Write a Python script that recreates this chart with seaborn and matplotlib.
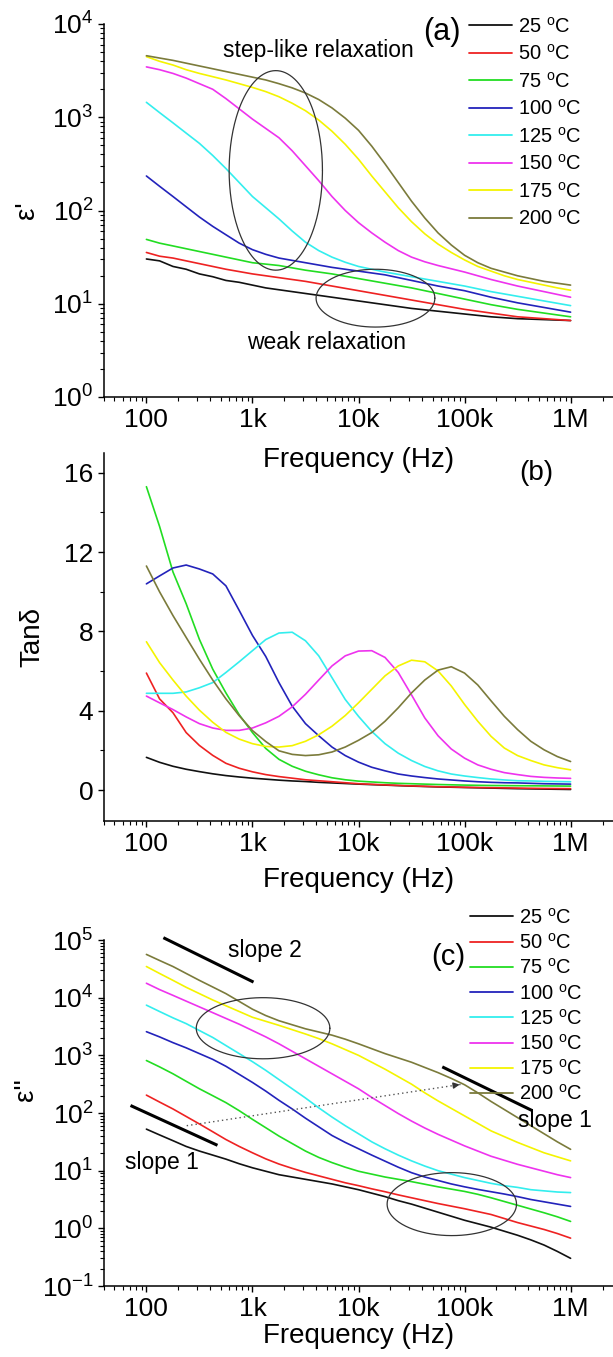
import numpy as np
import pandas as pd
import matplotlib
matplotlib.use("Agg")
import matplotlib.pyplot as plt
import seaborn as sns
from matplotlib.lines import Line2D
from matplotlib.ticker import FixedLocator, LogLocator, NullFormatter, LogFormatterSciNotation

# ---------------------------------------------------------------- data
# measurement frequencies (Hz), eighth-decade steps from 100 Hz to 1 MHz
freq = [100, 133, 178, 237, 316, 422, 562, 750, 1000, 1334, 1778, 2371, 3162,
        4217, 5623, 7499, 10000, 13335, 17783, 23714, 31623, 42170, 56234,
        74989, 100000, 133352, 177828, 237137, 316228, 421697, 562341,
        749894, 1000000]

temps = ["25", "50", "75", "100", "125", "150", "175", "200"]

# (a) real permittivity, stored as log10(eps')
eps1_25 = [1.48, 1.46, 1.40, 1.37, 1.32, 1.29, 1.25, 1.23, 1.20, 1.17, 1.15, 1.13, 1.11, 1.09, 1.07, 1.05, 1.03,
           1.01, 0.99, 0.97, 0.95, 0.935, 0.92, 0.905, 0.89, 0.875, 0.86, 0.85, 0.84, 0.835, 0.83, 0.825, 0.82]
eps1_50 = [1.55, 1.51, 1.49, 1.46, 1.43, 1.40, 1.37, 1.345, 1.32, 1.30, 1.28, 1.26, 1.24, 1.215, 1.19, 1.165, 1.14,
           1.115, 1.09, 1.065, 1.04, 1.015, 0.99, 0.965, 0.94, 0.92, 0.90, 0.88, 0.86, 0.85, 0.84, 0.83, 0.82]
eps1_75 = [1.69, 1.65, 1.62, 1.59, 1.56, 1.53, 1.50, 1.47, 1.44, 1.425, 1.41, 1.385, 1.36, 1.34, 1.32, 1.295, 1.27,
           1.245, 1.22, 1.195, 1.17, 1.14, 1.11, 1.08, 1.05, 1.02, 0.99, 0.965, 0.94, 0.92, 0.90, 0.88, 0.86]
eps1_100 = [2.37, 2.26, 2.15, 2.04, 1.93, 1.83, 1.74, 1.65, 1.58, 1.53, 1.49, 1.465, 1.44, 1.415, 1.39, 1.37, 1.35,
            1.33, 1.31, 1.28, 1.25, 1.22, 1.19, 1.165, 1.14, 1.105, 1.07, 1.04, 1.01, 0.985, 0.96, 0.935, 0.91]
eps1_125 = [3.16, 3.05, 2.94, 2.83, 2.72, 2.59, 2.45, 2.30, 2.15, 2.03, 1.91, 1.78, 1.66, 1.57, 1.50, 1.445, 1.40,
            1.37, 1.34, 1.315, 1.29, 1.265, 1.24, 1.215, 1.19, 1.16, 1.13, 1.105, 1.08, 1.055, 1.03, 1.005, 0.98]
eps1_150 = [3.54, 3.51, 3.47, 3.42, 3.36, 3.30, 3.20, 3.09, 2.98, 2.88, 2.78, 2.64, 2.48, 2.32, 2.15, 2.00, 1.87,
            1.76, 1.66, 1.57, 1.50, 1.45, 1.41, 1.375, 1.34, 1.30, 1.26, 1.225, 1.19, 1.16, 1.13, 1.10, 1.07]
eps1_175 = [3.65, 3.60, 3.56, 3.51, 3.47, 3.435, 3.40, 3.36, 3.32, 3.275, 3.22, 3.15, 3.07, 2.97, 2.85, 2.71, 2.55,
            2.37, 2.20, 2.03, 1.88, 1.75, 1.64, 1.55, 1.47, 1.40, 1.35, 1.30, 1.26, 1.23, 1.20, 1.17, 1.145]
eps1_200 = [3.66, 3.635, 3.61, 3.58, 3.55, 3.52, 3.49, 3.46, 3.43, 3.40, 3.36, 3.315, 3.26, 3.19, 3.10, 2.99, 2.86,
            2.69, 2.50, 2.30, 2.10, 1.92, 1.76, 1.63, 1.52, 1.44, 1.38, 1.34, 1.30, 1.27, 1.24, 1.22, 1.20]

# (b) loss tangent
tan_25 = [1.65, 1.4, 1.2, 1.05, 0.93, 0.82, 0.73, 0.66, 0.6, 0.55, 0.5, 0.46, 0.43, 0.39, 0.36, 0.33, 0.3,
          0.275, 0.25, 0.225, 0.2, 0.18, 0.16, 0.145, 0.13, 0.115, 0.1, 0.085, 0.07, 0.06, 0.05, 0.04, 0.03]
tan_50 = [5.9, 4.6, 3.9, 2.9, 2.25, 1.75, 1.35, 1.1, 0.92, 0.78, 0.68, 0.6, 0.52, 0.47, 0.42, 0.37, 0.32,
          0.29, 0.26, 0.235, 0.21, 0.19, 0.17, 0.155, 0.14, 0.13, 0.12, 0.11, 0.10, 0.09, 0.08, 0.075, 0.07]
tan_75 = [15.3, 13.3, 11.0, 9.4, 7.6, 6.1, 4.9, 3.8, 2.9, 2.1, 1.55, 1.2, 0.95, 0.77, 0.62, 0.52, 0.45,
          0.41, 0.37, 0.34, 0.32, 0.30, 0.28, 0.265, 0.25, 0.24, 0.23, 0.225, 0.22, 0.215, 0.21, 0.205, 0.20]
tan_100 = [10.4, 10.8, 11.2, 11.35, 11.15, 10.9, 10.3, 9.06, 7.8, 6.74, 5.42, 4.23, 3.35, 2.74, 2.17, 1.74, 1.41,
           1.15, 0.97, 0.81, 0.71, 0.63, 0.56, 0.51, 0.46, 0.42, 0.39, 0.37, 0.36, 0.34, 0.32, 0.31, 0.30]
tan_125 = [4.88, 4.88, 4.88, 4.95, 5.16, 5.42, 5.93, 6.47, 7.03, 7.59, 7.92, 7.96, 7.53, 6.77, 5.67, 4.57, 3.72,
           2.96, 2.34, 1.86, 1.49, 1.19, 0.97, 0.81, 0.71, 0.63, 0.56, 0.51, 0.47, 0.46, 0.44, 0.43, 0.42]
tan_150 = [4.74, 4.4, 4.06, 3.69, 3.35, 3.13, 3.01, 3.01, 3.13, 3.39, 3.72, 4.2, 4.83, 5.55, 6.26, 6.77, 7.01,
           7.03, 6.69, 5.93, 4.8, 3.64, 2.74, 2.07, 1.61, 1.27, 1.05, 0.88, 0.78, 0.69, 0.64, 0.61, 0.59]
tan_175 = [7.48, 6.43, 5.55, 4.74, 4.03, 3.42, 2.91, 2.57, 2.34, 2.2, 2.17, 2.24, 2.46, 2.79, 3.22, 3.76, 4.4,
           5.08, 5.76, 6.26, 6.55, 6.47, 6.01, 5.25, 4.32, 3.47, 2.71, 2.12, 1.74, 1.49, 1.27, 1.13, 1.02]
tan_200 = [11.3, 10.0, 8.8, 7.7, 6.6, 5.55, 4.6, 3.75, 3.0, 2.45, 1.98, 1.8, 1.74, 1.78, 1.92, 2.17, 2.51,
           2.9, 3.47, 4.15, 4.9, 5.55, 6.05, 6.22, 5.9, 5.3, 4.5, 3.72, 3.05, 2.46, 2.03, 1.69, 1.44]

# (c) imaginary permittivity, stored as log10(eps'')
eps2_25 = [1.72, 1.62, 1.52, 1.42, 1.34, 1.27, 1.20, 1.12, 1.05, 0.99, 0.93, 0.89, 0.85, 0.81, 0.77, 0.72, 0.67,
           0.61, 0.55, 0.48, 0.42, 0.35, 0.28, 0.21, 0.14, 0.08, 0.02, -0.05, -0.12, -0.20, -0.29, -0.40, -0.52]
eps2_50 = [2.31, 2.19, 2.07, 1.94, 1.81, 1.675, 1.54, 1.42, 1.31, 1.205, 1.115, 1.04, 0.97, 0.91, 0.85, 0.79, 0.74,
           0.685, 0.635, 0.58, 0.53, 0.48, 0.43, 0.385, 0.34, 0.29, 0.24, 0.17, 0.10, 0.04, -0.02, -0.09, -0.17]
eps2_75 = [2.91, 2.80, 2.68, 2.55, 2.42, 2.30, 2.18, 2.04, 1.89, 1.745, 1.60, 1.47, 1.34, 1.23, 1.14, 1.06, 0.99,
           0.94, 0.89, 0.85, 0.81, 0.765, 0.72, 0.68, 0.64, 0.59, 0.53, 0.465, 0.40, 0.335, 0.27, 0.20, 0.12]
eps2_100 = [3.41, 3.32, 3.22, 3.13, 3.03, 2.93, 2.81, 2.67, 2.53, 2.38, 2.22, 2.07, 1.91, 1.76, 1.61, 1.49, 1.38,
            1.27, 1.165, 1.06, 0.965, 0.89, 0.83, 0.77, 0.72, 0.675, 0.635, 0.595, 0.55, 0.50, 0.46, 0.42, 0.38]
eps2_125 = [3.87, 3.76, 3.65, 3.55, 3.43, 3.31, 3.17, 3.03, 2.89, 2.74, 2.58, 2.42, 2.26, 2.09, 1.93, 1.78, 1.64,
            1.50, 1.38, 1.27, 1.17, 1.08, 1.00, 0.94, 0.88, 0.83, 0.78, 0.74, 0.71, 0.67, 0.65, 0.63, 0.62]
eps2_150 = [4.25, 4.14, 4.04, 3.94, 3.84, 3.74, 3.64, 3.54, 3.43, 3.32, 3.20, 3.07, 2.94, 2.81, 2.68, 2.55, 2.42,
            2.27, 2.13, 1.99, 1.86, 1.74, 1.63, 1.53, 1.43, 1.34, 1.25, 1.18, 1.11, 1.05, 0.99, 0.93, 0.88]
eps2_175 = [4.54, 4.42, 4.30, 4.18, 4.07, 3.96, 3.86, 3.76, 3.66, 3.59, 3.52, 3.445, 3.37, 3.29, 3.20, 3.10, 3.00,
            2.88, 2.76, 2.63, 2.50, 2.35, 2.21, 2.08, 1.95, 1.82, 1.69, 1.59, 1.49, 1.40, 1.31, 1.24, 1.17]
eps2_200 = [4.75, 4.645, 4.54, 4.42, 4.30, 4.185, 4.07, 3.935, 3.80, 3.69, 3.60, 3.53, 3.46, 3.405, 3.35, 3.28, 3.20,
            3.115, 3.03, 2.955, 2.88, 2.79, 2.70, 2.60, 2.49, 2.35, 2.20, 2.06, 1.92, 1.78, 1.64, 1.50, 1.37]

colors = ["#111111", "#ee2222", "#22dd22", "#2323bb",
          "#33eeee", "#ee33ee", "#f4f400", "#7b7b3b"]

x_ticks = [100, 1e3, 1e4, 1e5, 1e6]
x_ticklabels = ["100", "1k", "10k", "100k", "1M"]
eps1_ticks = [1, 10, 100, 1e3, 1e4]
tan_ticks = [0, 4, 8, 12, 16]
tan_minor = [2, 6, 10, 14]
eps2_ticks = [0.1, 1, 10, 100, 1e3, 1e4, 1e5]

# ---------------------------------------------------------------- style
sns.set_style("ticks")
plt.rcParams["font.family"] = ["Liberation Sans", "DejaVu Sans"]
plt.rcParams["mathtext.fontset"] = "custom"
plt.rcParams["mathtext.rm"] = "Liberation Sans"
plt.rcParams["mathtext.it"] = "Liberation Sans:italic"
for key in ("text.color", "axes.labelcolor", "xtick.color", "ytick.color", "axes.edgecolor"):
    plt.rcParams[key] = "black"

W, H = 613, 1357
fig = plt.figure(figsize=(W / 100, H / 100), dpi=100)
fig.patch.set_facecolor("white")

TICK_FS = 19
LABEL_FS = 20
NOTE_FS = 16.5


def axes_px(left, top, right, bottom):
    ax = fig.add_axes([left / W, 1 - bottom / H, (right - left) / W, (bottom - top) / H])
    ax.set_facecolor("none")
    return ax


def long_frame(series, log_values):
    rows = []
    for t, vals in zip(temps, series):
        v = np.power(10.0, vals) if log_values else np.asarray(vals, float)
        rows.append(pd.DataFrame({"freq": freq, "value": v, "temp": t}))
    return pd.concat(rows, ignore_index=True)


def draw_curves(ax, df):
    sns.lineplot(data=df, x="freq", y="value", hue="temp", hue_order=temps,
                 palette=dict(zip(temps, colors)), estimator=None, sort=False,
                 linewidth=1.2, legend=False, ax=ax)


def style_axes(ax):
    ax.set_xscale("log")
    ax.set_xlim(10 ** 1.6, 10 ** 6.4)
    ax.xaxis.set_major_locator(FixedLocator(x_ticks))
    ax.set_xticklabels(x_ticklabels)
    ax.xaxis.set_minor_locator(LogLocator(base=10, subs=np.arange(2, 10), numticks=20))
    ax.xaxis.set_minor_formatter(NullFormatter())
    ax.tick_params(which="major", direction="out", length=4.6, width=1.0,
                   labelsize=TICK_FS, pad=3)
    ax.tick_params(which="minor", direction="out", length=2.6, width=0.8)
    for s in ("left", "bottom"):
        ax.spines[s].set_linewidth(1.1)
    sns.despine(ax=ax)


def log_y(ax, ticks):
    ax.set_ylim(ticks[0], ticks[-1])
    ax.yaxis.set_major_locator(FixedLocator(ticks))
    ax.yaxis.set_major_formatter(LogFormatterSciNotation())
    ax.yaxis.set_minor_locator(LogLocator(base=10, subs=np.arange(2, 10), numticks=20))
    ax.yaxis.set_minor_formatter(NullFormatter())


def log_ellipse(ax, cx, cy, rx, ry):
    t = np.linspace(0, 2 * np.pi, 240)
    ax.plot(10 ** (cx + rx * np.cos(t)), 10 ** (cy + ry * np.sin(t)),
            color="#333333", lw=0.9, clip_on=False)


def text_px(x, y, s, size, **kw):
    fig.text(x / W, 1 - y / H, s, fontsize=size, ha="center", va="center", **kw)


def temp_legend(ax, x_px, top_px, spacing):
    handles = [Line2D([0], [0], color=c, lw=1.3) for c in colors]
    labels = [f"{t} $^{{\\mathrm{{o}}}}$C" for t in temps]
    ax.legend(handles, labels, loc="upper left",
              bbox_to_anchor=(x_px / W, 1 - top_px / H), bbox_transform=fig.transFigure,
              frameon=False, fontsize=14.5, handlelength=2.15, handletextpad=0.3,
              labelspacing=spacing, borderpad=0, borderaxespad=0)


def x_label(ax, bottom_px, center_px, height_px):
    ax.set_xlabel("Frequency (Hz)", fontsize=LABEL_FS, va="center")
    ax.xaxis.set_label_coords(0.5, (bottom_px - center_px) / height_px)


# ---------------------------------------------------------------- (a) eps'
ax_a = axes_px(104, 24, 613, 397)
ax_a.set_yscale("log")
draw_curves(ax_a, long_frame([eps1_25, eps1_50, eps1_75, eps1_100,
                              eps1_125, eps1_150, eps1_175, eps1_200], True))
style_axes(ax_a)
log_y(ax_a, eps1_ticks)
x_label(ax_a, 397, 460, 373)
ax_a.set_ylabel("ε'", fontsize=LABEL_FS, va="center", ha="center")
ax_a.yaxis.set_label_coords((27 - 104) / 509, 0.5)
log_ellipse(ax_a, 3.22, 2.43, 0.44, 1.07)
log_ellipse(ax_a, 4.16, 1.06, 0.56, 0.31)
text_px(318, 50, "step-like relaxation", NOTE_FS)
text_px(327, 342, "weak relaxation", NOTE_FS)
text_px(442, 32, "(a)", 22)
temp_legend(ax_a, 469, 16.5, 0.37)

# ---------------------------------------------------------------- (b) tan delta
ax_b = axes_px(104, 453, 613, 821)
draw_curves(ax_b, long_frame([tan_25, tan_50, tan_75, tan_100,
                              tan_125, tan_150, tan_175, tan_200], False))
style_axes(ax_b)
ax_b.set_ylim(-1.56, 17.0)
ax_b.yaxis.set_major_locator(FixedLocator(tan_ticks))
ax_b.yaxis.set_minor_locator(FixedLocator(tan_minor))
x_label(ax_b, 821, 880, 368)
ax_b.set_ylabel("Tanδ", fontsize=LABEL_FS, va="center", ha="center")
ax_b.yaxis.set_label_coords((32 - 104) / 509, 0.5)
text_px(536, 473, "(b)", 20)

# ---------------------------------------------------------------- (c) eps''
ax_c = axes_px(104, 940, 613, 1286)
ax_c.set_yscale("log")
draw_curves(ax_c, long_frame([eps2_25, eps2_50, eps2_75, eps2_100,
                              eps2_125, eps2_150, eps2_175, eps2_200], True))
style_axes(ax_c)
log_y(ax_c, eps2_ticks)
x_label(ax_c, 1286, 1336, 346)
ax_c.set_ylabel("ε''", fontsize=LABEL_FS, va="center", ha="center")
ax_c.yaxis.set_label_coords((26 - 104) / 509, (1286 - 1090) / 346)

# guide lines for the power-law slopes (log10 f, log10 eps'')
for (x0, y0, x1, y1) in [(2.16, 5.04, 3.01, 4.27), (4.79, 2.80, 5.64, 2.04), (1.85, 2.13, 2.67, 1.44)]:
    ax_c.plot([10 ** x0, 10 ** x1], [10 ** y0, 10 ** y1], color="black", lw=2.2,
              clip_on=False, solid_capstyle="butt")

# dotted arrow across the relaxation shoulders
a0, a1 = np.array([2.38, 1.78]), np.array([4.98, 2.50])
ax_c.plot([10 ** a0[0], 10 ** a1[0]], [10 ** a0[1], 10 ** a1[1]],
          color="#555555", lw=1.0, ls=(0, (1, 2.2)))
near = a0 + 0.96 * (a1 - a0)
ax_c.annotate("", xy=(10 ** a1[0], 10 ** a1[1]), xytext=(10 ** near[0], 10 ** near[1]),
              arrowprops=dict(arrowstyle="-|>", color="#333333", lw=1.0, mutation_scale=9))

log_ellipse(ax_c, 3.10, 3.47, 0.63, 0.53)
log_ellipse(ax_c, 4.88, 0.42, 0.61, 0.546)
text_px(265, 950, "slope 2", NOTE_FS)
text_px(555, 1120, "slope 1", NOTE_FS)
text_px(162, 1163, "slope 1", NOTE_FS)
text_px(448, 957, "(c)", 21)
temp_legend(ax_c, 470, 907.5, 0.26)

fig.savefig("out.png", dpi=100, facecolor="white")
